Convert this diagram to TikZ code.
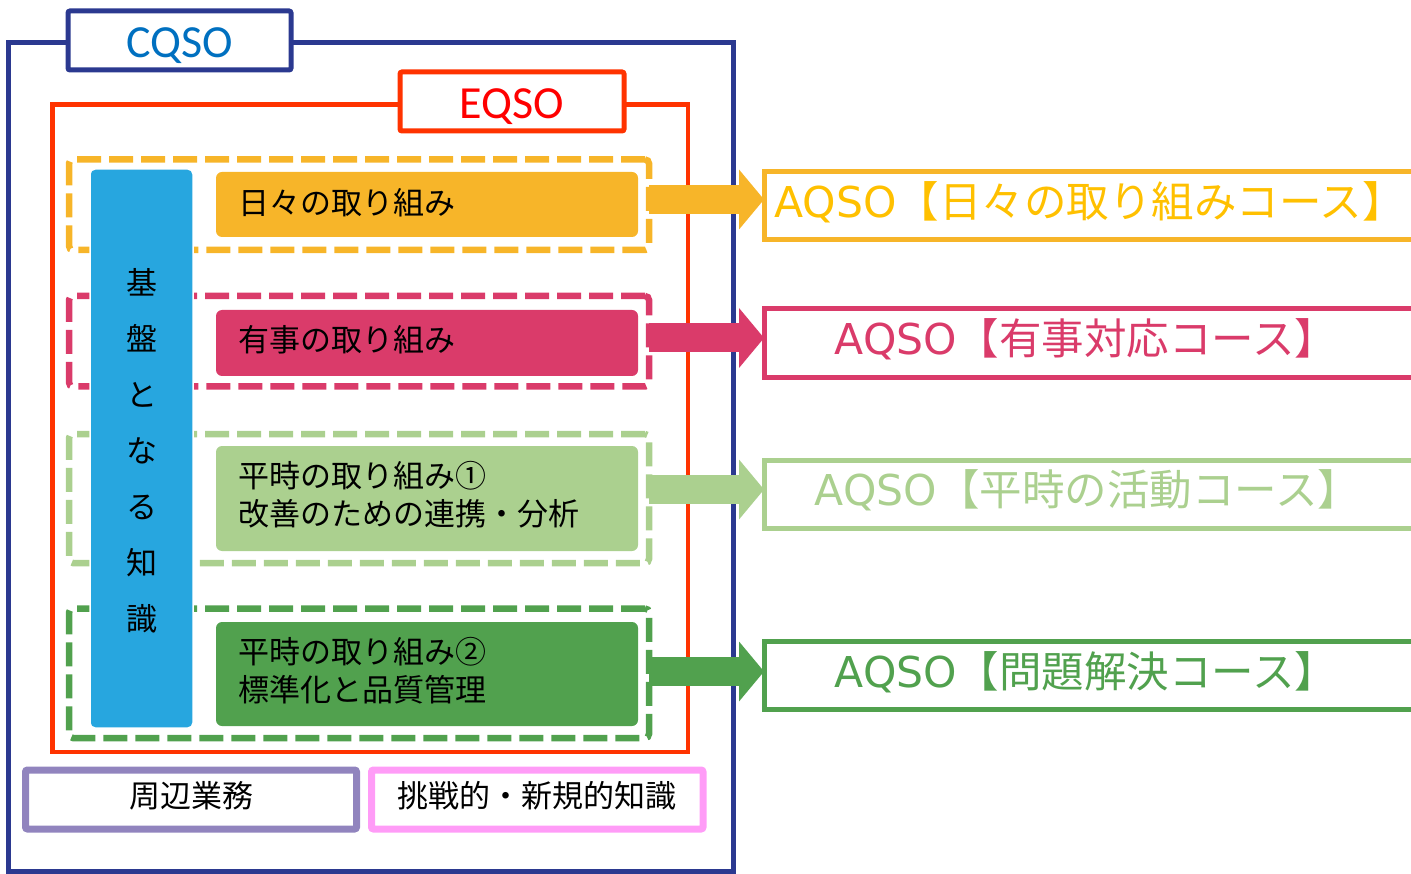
\documentclass[tikz,border=0pt]{standalone}
\usepackage{fontspec}
\setmainfont{Noto Sans CJK JP}
\newfontfamily\dv{DejaVu Sans}
\newfontfamily\cb{Carlito}
\usetikzlibrary{arrows.meta}
\definecolor{navy}{RGB}{43,57,144}
\definecolor{cqsoblue}{RGB}{0,112,192}
\definecolor{redline}{RGB}{255,51,0}
\definecolor{redtext}{RGB}{255,0,0}
\definecolor{yel}{RGB}{247,181,41}
\definecolor{yeltext}{RGB}{255,192,0}
\definecolor{pnk}{RGB}{218,59,106}
\definecolor{lgr}{RGB}{171,208,143}
\definecolor{dgr}{RGB}{81,161,78}
\definecolor{barblue}{RGB}{39,166,223}
\definecolor{purp}{RGB}{145,132,190}
\definecolor{lpink}{RGB}{255,156,247}
\tikzset{
  box/.style={rectangle, outer sep=0pt, inner sep=0pt},
  frame/.style={box, line width=5pt},
  label/.style={box, line width=5pt, fill=white, rounded corners=2pt},
  labeltext/.style={inner sep=0pt, font=\cb\fontsize{46}{50}\selectfont},
  dashbox/.style={box, line width=6.5pt, dash pattern=on 24pt off 8pt, rounded corners=4pt},
  fillbox/.style={box, rounded corners=6pt, minimum width=422pt},
  filltext/.style={inner sep=0pt, text width=374pt, align=left, font=\fontsize{31}{38}\selectfont},
  aqso/.style={box, line width=5pt, minimum width=649pt},
  aqsotext/.style={inner sep=0pt, font=\fontsize{42.5}{48}\selectfont},
  blk/.style={line width=29pt, -{Triangle[length=25pt,width=60pt,line width=0pt]}},
  bottombox/.style={box, line width=7pt, rounded corners=2pt},
  bottomtext/.style={inner sep=0pt, font=\fontsize{31}{38}\selectfont}
}
\begin{document}
\begin{tikzpicture}[x=1pt,y=-1pt]
\useasboundingbox (0,0) rectangle (1411,874);
% outer frames
\node[frame, draw=navy, minimum width=725pt, minimum height=829pt] (cqsoframe) at (371,457) {};
\node[frame, draw=redline, line width=4.5pt, minimum width=635.5pt, minimum height=647.5pt] (eqsoframe) at (370.25,428.25) {};
\node[label, draw=navy, minimum width=223pt, minimum height=59pt] (cqso) at (179.5,40.5) {};
\node[labeltext, text=cqsoblue] (cqsot) at ([yshift=-5pt]cqso.center) {CQSO};
\node[label, draw=redline, minimum width=224pt, minimum height=59pt] (eqso) at (512,101.5) {};
\node[labeltext, text=redtext] (eqsot) at ([yshift=-5pt]eqso.center) {EQSO};
% dashed boxes
\node[dashbox, draw=yel, minimum width=580pt, minimum height=90.5pt] (dy) at (359,204.75) {};
\node[dashbox, draw=pnk, minimum width=580pt, minimum height=90.5pt] (dp) at (359,341.25) {};
\node[dashbox, draw=lgr, minimum width=580pt, minimum height=129pt] (dl) at (359,498.5) {};
\node[dashbox, draw=dgr, minimum width=580pt, minimum height=129.5pt] (dd) at (359,673.25) {};
% filled boxes
\node[fillbox, fill=yel, minimum height=65pt] (fy) at (427,204.5) {};
\node[fillbox, fill=pnk, minimum height=66pt] (fp) at (427,343) {};
\node[fillbox, fill=lgr, minimum height=105pt] (fl) at (427,498.5) {};
\node[fillbox, fill=dgr, minimum height=104pt] (fd) at (427,674) {};
\node[filltext] (fyt) at ([xshift=-2pt,yshift=2pt]fy.center) {日々の取り組み};
\node[filltext] (fpt) at ([xshift=-2pt,yshift=3pt]fp.center) {有事の取り組み};
\node[filltext] (flt) at ([xshift=-2pt,yshift=3.5pt]fl.center) {平時の取り組み①\\改善のための連携・分析};
\node[filltext] (fdt) at ([xshift=-2pt,yshift=3.5pt]fd.center) {平時の取り組み②\\標準化と品質管理};
% blue bar
\node[box, fill=barblue, draw=white, line width=1.5pt, rounded corners=5pt, minimum width=103pt, minimum height=559pt] (bar) at (141.5,448.5) {};
\node[inner sep=0pt, align=center, font=\fontsize{31}{56}\selectfont] (bart) at ([yshift=-2.5pt]bar.center) {基\\盤\\と\\な\\る\\知\\識};
% AQSO boxes
\node[aqso, draw=yel, minimum height=68pt] (ay) at (1088.5,206) {};
\node[aqso, draw=pnk, minimum height=69pt] (ap) at (1088.5,343) {};
\node[aqso, draw=lgr, minimum height=67.5pt] (al) at (1088.5,494.25) {};
\node[aqso, draw=dgr, minimum height=68pt] (ad) at (1088.5,675.5) {};
\node[aqsotext, text=yeltext] (ty) at ([xshift=1pt,yshift=3.5pt]ay.center) {{\dv AQSO}【日々の取り組みコース】};
\node[aqsotext, text=pnk] (tp) at ([xshift=-2.5pt,yshift=3.5pt]ap.center) {{\dv AQSO}【有事対応コース】};
\node[aqsotext, text=lgr] (tl) at ([xshift=-1pt,yshift=3.5pt]al.center) {{\dv AQSO}【平時の活動コース】};
\node[aqsotext, text=dgr] (td) at ([xshift=-2.5pt,yshift=3.5pt]ad.center) {{\dv AQSO}【問題解決コース】};
% arrows
\draw[blk, yel] ([yshift=5.25pt]dy.east) -- ([yshift=5.25pt]dy.east -| ay.west);
\draw[blk, pnk] ([yshift=3.25pt]dp.east) -- ([yshift=3.25pt]dp.east -| ap.west);
\draw[blk, lgr] ([yshift=9pt]dl.east) -- ([yshift=9pt]dl.east -| al.west);
\draw[blk, dgr] ([yshift=1.75pt]dd.east) -- ([yshift=1.75pt]dd.east -| ad.west);
% bottom boxes
\node[bottombox, draw=purp, minimum width=331pt, minimum height=59pt] (peri) at (191,799.5) {};
\node[bottomtext] (perit) at ([yshift=3.5pt]peri.center) {周辺業務};
\node[bottombox, draw=lpink, minimum width=331.5pt, minimum height=59pt] (chal) at (537.25,799.5) {};
\node[bottomtext] (chalt) at ([yshift=3.5pt]chal.center) {挑戦的・新規的知識};
\end{tikzpicture}
\end{document}
